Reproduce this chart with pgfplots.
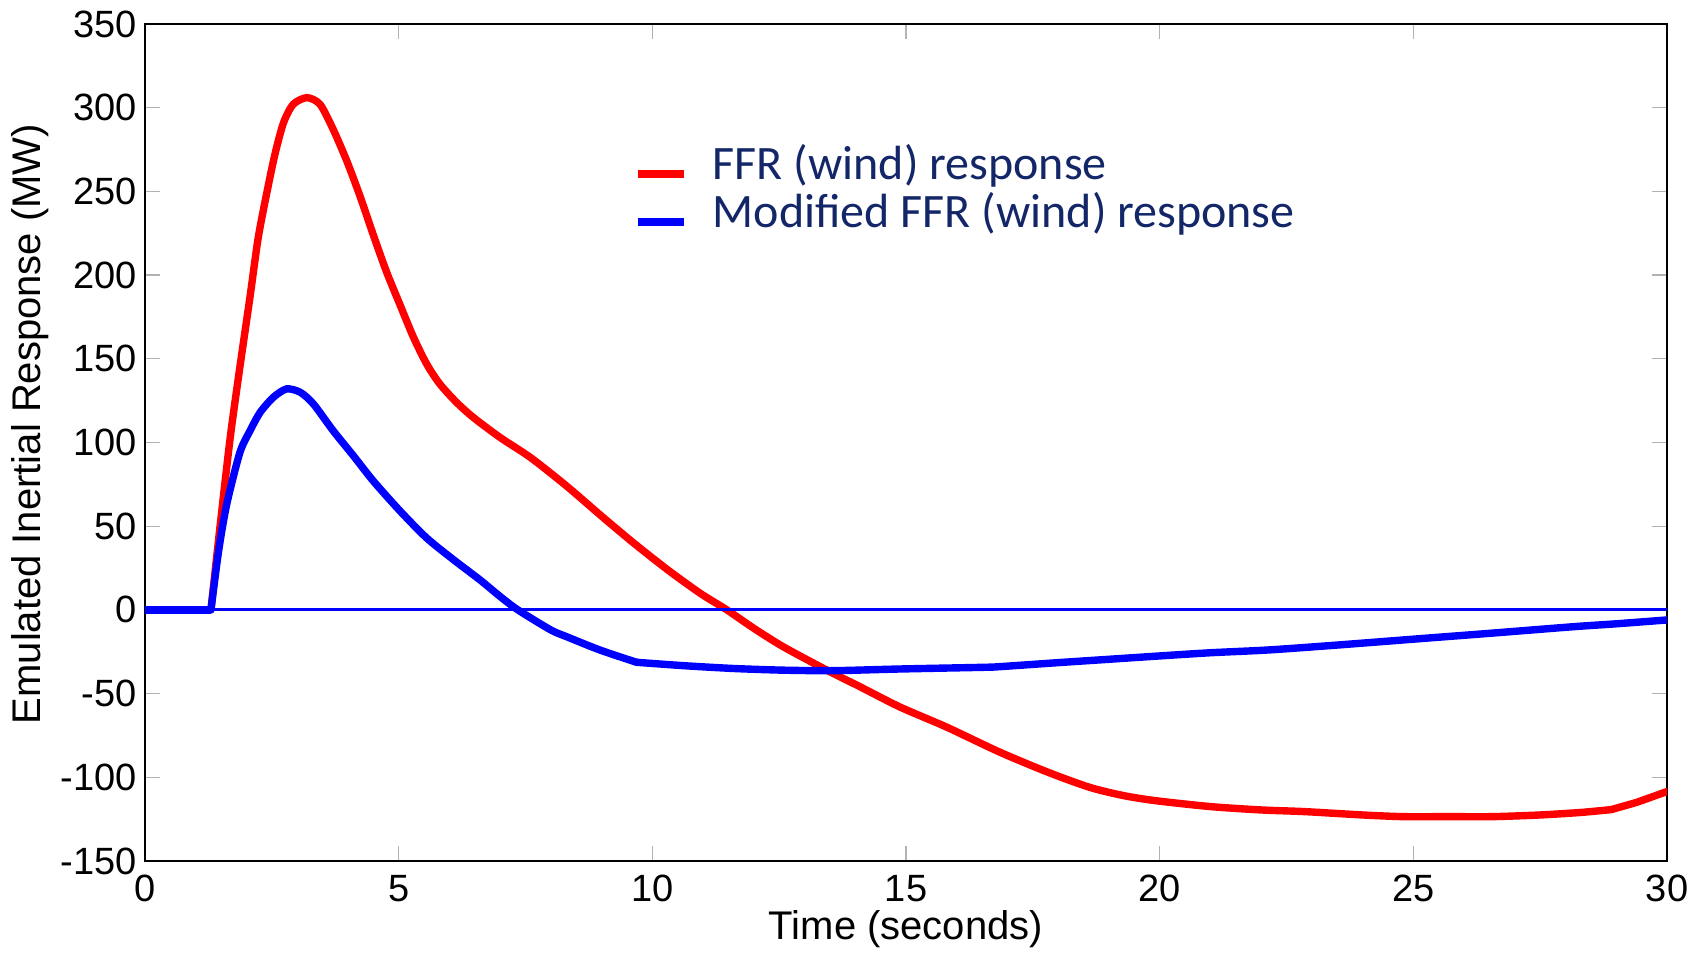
\documentclass[border=0pt]{standalone}
\usepackage{pgfplots}
\pgfplotsset{compat=1.18}
\usepackage{fontspec}
\setmainfont{Liberation Sans}
\newfontfamily\calibri{Carlito}
\definecolor{navy}{RGB}{18,38,104}
\begin{document}
\begin{tikzpicture}
\begin{axis}[
  scale only axis,
  width=761pt, height=418.5pt,
  xmin=0, xmax=30, ymin=-150, ymax=350,
  xtick={0,5,...,30}, ytick={-150,-100,...,350},
  /pgf/number format/assume math mode=true,
  tick align=inside,
  major tick length=7.5pt,
  tick style={gray!60, line width=0.6pt},
  axis line style={black, line width=0.6pt},
  tick label style={font=\fontsize{19}{22}\selectfont},
  xticklabel style={anchor=north, inner sep=0pt, yshift=-7pt},
  yticklabel style={anchor=east, inner sep=0pt, xshift=-4pt},
  every axis x label/.style={at={(rel axis cs:0.5,0)}, yshift=-34pt, anchor=center, font=\fontsize{20}{24}\selectfont},
  every axis y label/.style={at={(rel axis cs:0,0.522)}, xshift=-57.5pt, rotate=90, anchor=center, font=\fontsize{20}{24}\selectfont},
  xlabel={Time (seconds)},
  ylabel={Emulated Inertial Response (MW)},
  legend style={draw=none, fill=none, at={(rel axis cs:0.3213,0.855)}, anchor=north west,
    font=\calibri\fontsize{24}{28}\selectfont, text=navy, inner sep=0pt,
    nodes={inner sep=0pt, text height=17pt, text depth=5pt}, row sep=2pt},
  legend cell align=left,
  legend image code/.code={\draw[#1, line width=3.8pt, line cap=butt] (0pt,-3pt) -- (23pt,-3pt); \path (35.5pt,0pt);},
]
\coordinate (SW) at (rel axis cs:0,0);
\coordinate (NE) at (rel axis cs:1,1);
% red: flat part, main smooth part, final segment
\addplot[red, line width=3.7pt, forget plot] coordinates {(0,0) (1.3,0)};
\addplot[red, line width=3.7pt, smooth, tension=0.45, line cap=round] coordinates {
(1.3,0) (1.48,50) (1.68,103) (1.87,145) (2.07,187) (2.23,222) (2.4,249) (2.56,272) (2.73,291) (2.92,302) (3.19,306) (3.45,302) (3.71,287) (3.98,268) (4.24,247) (4.5,224) (4.76,202) (5.03,182) (5.29,163) (5.55,147) (5.81,135) (6.14,124) (6.47,115) (7.0,103) (7.6,91) (8.31,74) (9.0,56) (9.63,40) (10.3,24) (10.94,10) (11.47,0) (12.0,-11) (12.58,-22) (13.44,-36) (14.1,-46) (14.88,-58) (15.8,-70) (16.85,-85) (17.8,-97) (18.62,-106) (19.3,-111) (19.93,-114) (21,-117.5) (22,-119.5) (22.86,-120.5) (24,-122.5) (24.8,-123.5) (25.7,-123.5) (26.56,-123.5) (27.5,-122.5) (28.3,-121) (28.9,-119.3)
};
\addlegendentry{FFR (wind) response}
\addplot[blue, line width=3.7pt, smooth, tension=0.45, line cap=round] coordinates {
(1.3,0) (1.45,35) (1.61,63) (1.87,94) (2.07,107) (2.27,118) (2.53,127) (2.79,132) (3.06,130) (3.32,123) (3.71,107) (4.11,92) (4.5,77) (5.03,59) (5.55,43) (6.08,30) (6.6,18) (7.0,8) (7.35,0) (8.0,-12) (8.31,-16) (8.97,-24) (9.69,-31.3)
};
\addlegendentry{Modified FFR (wind) response}
\addplot[red, line width=3.7pt, forget plot, line cap=round] coordinates {(28.9,-119.3) (29.4,-115) (30,-108.5)};
\addplot[blue, line width=3.7pt, forget plot] coordinates {(0,0) (1.3,0)};
\addplot[blue, line width=3.7pt, smooth, tension=0.45, forget plot, line cap=round] coordinates {
(9.69,-31.3) (10.61,-33.3) (11.6,-35) (12.58,-36) (13.57,-36.3) (14.88,-35.3) (16.52,-34.3) (16.85,-33.9) (18,-31.5) (19,-29.5) (20,-27.5) (21,-25.6) (22.16,-23.9) (23.5,-21) (25.25,-16.9) (26.5,-14) (28.17,-10) (29,-8.3) (30,-6)
};
\addplot[blue, line width=1.5pt, forget plot] coordinates {(0,0) (30,0)};
\end{axis}
\pgfresetboundingbox
\path[use as bounding box] ([shift={(-72.5pt,-45.5pt)}]SW) rectangle ([shift={(16.5pt,12pt)}]NE);
\end{tikzpicture}
\end{document}
